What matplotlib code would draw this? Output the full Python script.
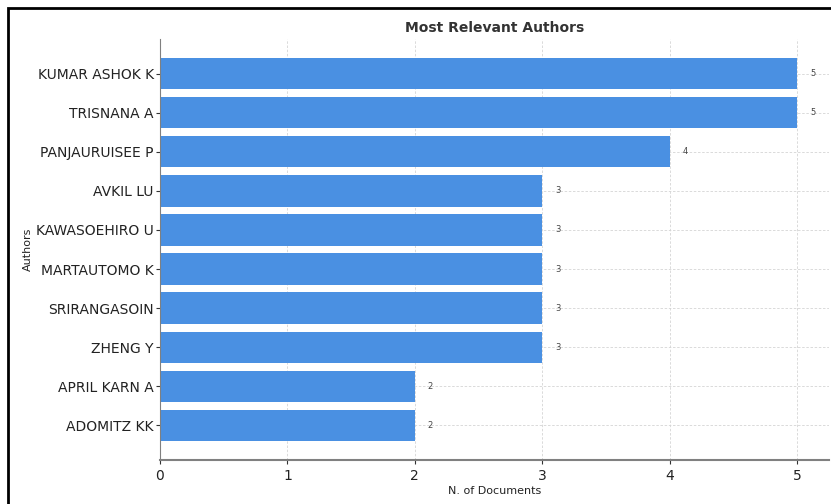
import matplotlib.pyplot as plt
from matplotlib.patches import Rectangle

authors = ["KUMAR ASHOK K", "TRISNANA A", "PANJAURUISEE P", "AVKIL LU",
           "KAWASOEHIRO U", "MARTAUTOMO K", "SRIRANGASOIN", "ZHENG Y",
           "APRIL KARN A", "ADOMITZ KK"]
documents = [5, 5, 4, 3, 3, 3, 3, 3, 2, 2]

fig = plt.figure(figsize=(8.31, 5.04), dpi=100)
ax = fig.add_axes([160 / 831, 1 - 460 / 504, 669 / 831, 421 / 504])

ax.barh(authors, documents, color="#4a90e2", height=0.8, zorder=2)
ax.invert_yaxis()
ax.set_xlim(0, 5.25)

for i, v in enumerate(documents):
    ax.text(v + 0.1, i, str(v), va="center", ha="left", fontsize=6,
            color="#444444")

ax.set_title("Most Relevant Authors", fontsize=10, fontweight="bold",
             color="#333333", pad=5)
ax.set_xlabel("N. of Documents", fontsize=8, color="#222222", labelpad=2)
ax.set_ylabel("Authors", fontsize=8, color="#222222", labelpad=2)
ax.tick_params(labelsize=10, labelcolor="#222222", color="#333333",
               length=3)
ax.tick_params(axis="y", pad=1.5)
ax.grid(True, linestyle=(0, (3, 2)), color="#d5d5d5", linewidth=0.6,
        zorder=0)
ax.set_axisbelow(True)
for s in ["top", "right"]:
    ax.spines[s].set_visible(False)
for s in ["left", "bottom"]:
    ax.spines[s].set_color("#808080")
ax.spines["bottom"].set_linewidth(1.5)

# black frame around the picture
fig.patches.append(Rectangle((8 / 831, -0.1), 1.0, 1 - 8 / 504 + 0.1,
                             transform=fig.transFigure, fill=False,
                             edgecolor="black", linewidth=2))

fig.savefig("out.png", dpi=100)
